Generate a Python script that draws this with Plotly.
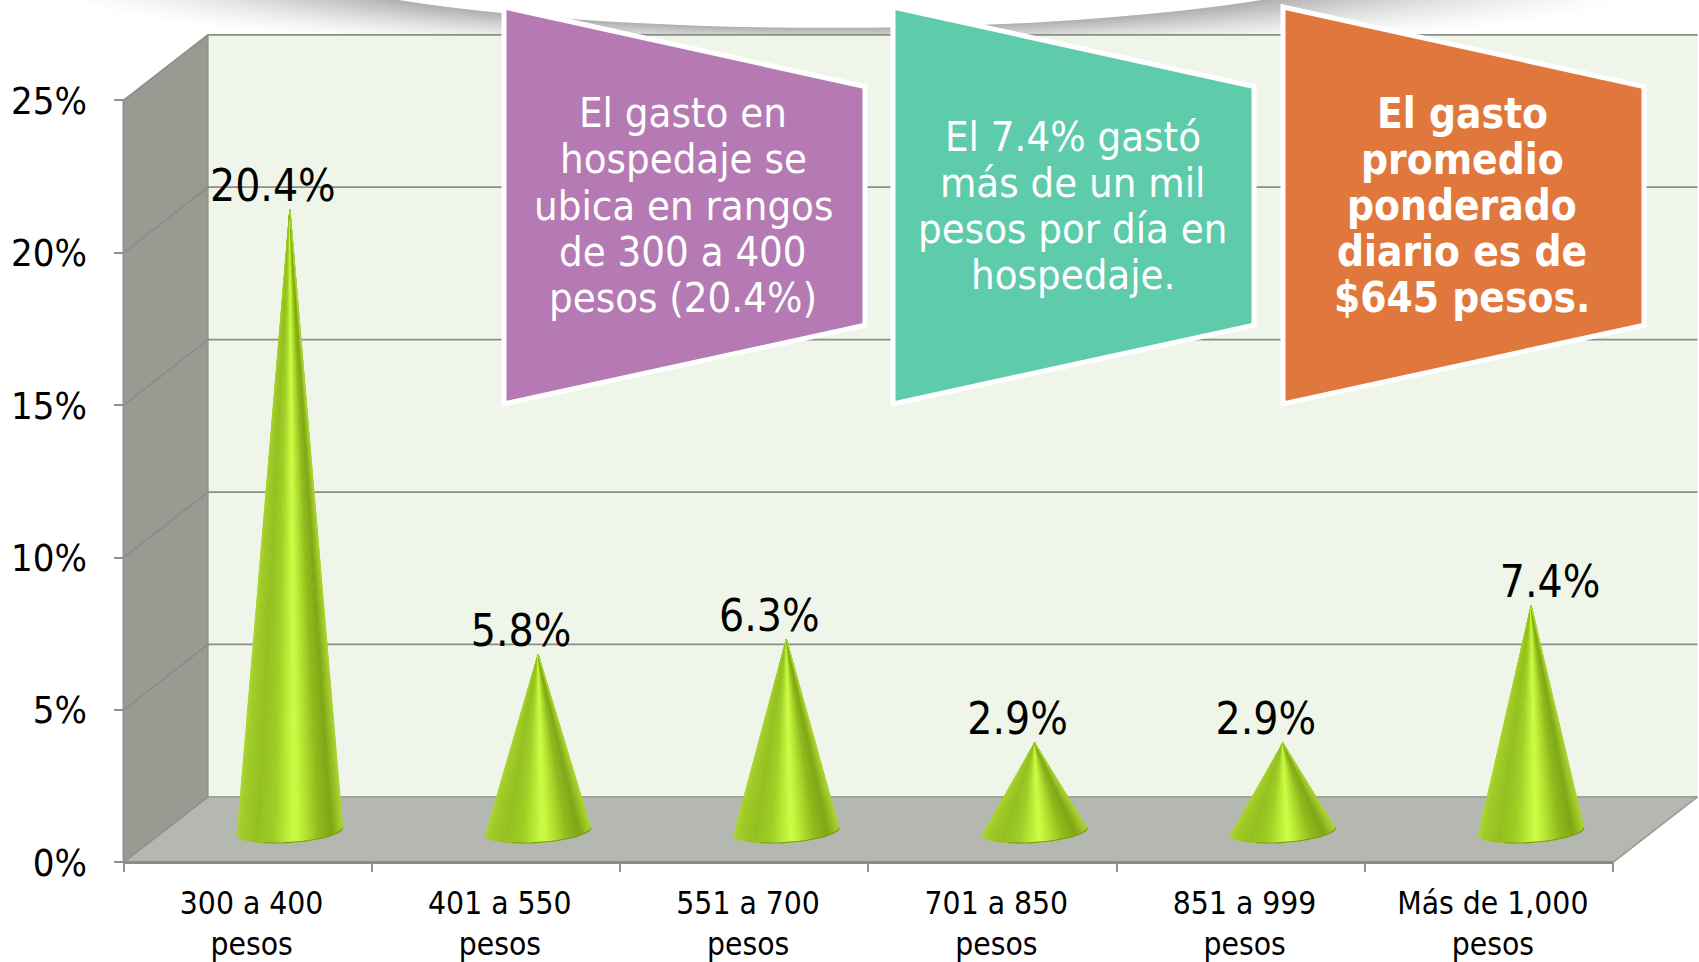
import math
import plotly.graph_objects as go

categories = ["300 a 400<br>pesos", "401 a 550<br>pesos", "551 a 700<br>pesos",
              "701 a 850<br>pesos", "851 a 999<br>pesos", "Más de 1,000<br>pesos"]
values = [20.4, 5.8, 6.3, 2.9, 2.9, 7.4]
value_labels = ["20.4%", "5.8%", "6.3%", "2.9%", "2.9%", "7.4%"]
y_ticks = [0, 5, 10, 15, 20, 25]
y_tick_labels = ["0%", "5%", "10%", "15%", "20%", "25%"]

callout_purple = ["El gasto en", "hospedaje se", "ubica en rangos", "de 300 a 400", "pesos (20.4%)"]
callout_teal = ["El 7.4% gastó", "más de un mil", "pesos por día en", "hospedaje."]
callout_orange = ["El gasto", "promedio", "ponderado", "diario es de", "$645 pesos."]

W, H = 1699, 962
X0, X1, Y0, Y25 = 123.5, 1613.0, 867.0, 101.0
PX = (X1 - X0) / 6
PY = (Y0 - Y25) / 25
DX = 84.5 / PX
DY = 66.0 / PY
FONT = "DejaVu Sans Condensed"

x_range = [-X0 / PX, (W - X0) / PX]
y_range = [-(H - Y0) / PY, Y0 / PY]


def paper_x(px):
    return px / W


def paper_y(py):
    return 1 - py / H


fig = go.Figure()


def poly(xs, ys, color):
    fig.add_trace(go.Scatter(x=xs, y=ys, mode="lines", fill="toself", fillcolor=color,
                             line=dict(width=0, color=color), hoverinfo="skip", showlegend=False))


def line(xs, ys, color="#8b8e86", width=1.6):
    fig.add_trace(go.Scatter(x=xs, y=ys, mode="lines", line=dict(color=color, width=width),
                             hoverinfo="skip", showlegend=False))


# Walls and floor
poly([DX, 6 + DX, 6 + DX, DX], [DY, DY, 25 + DY, 25 + DY], "#EFF6E9")
poly([0, DX, DX, 0], [0, DY, 25 + DY, 25], "#999B92")
poly([0, 6, 6 + DX, DX], [0, 0, DY, DY], "#B4B8B0")

# Gridlines
for v in y_ticks[1:]:
    line([0, DX, 6 + DX], [v, v + DY, v + DY], "#8b8e86", 1.8)
line([DX, DX], [DY, 25 + DY], "#8b8e86", 1.2)
line([0, DX, 6 + DX], [0, DY, DY], "#8b8e86", 1.4)
line([6, 6 + DX], [0, DY], "#9a9c96", 1.6)
line([0, 0], [0, 25], "#8f918b", 2)
line([0, 6], [0, 0], "#8a8c86", 3)

# Cones: fan of strips from the apex to the front arc of the base
R = 50.5
D = 15.6
CONE_DROP = 1.5 / PY
tilt = math.atan2(D, R)
N = 60
stops = [(0.0, (172, 214, 50)), (0.05, (160, 204, 40)), (0.2, (148, 192, 32)), (0.36, (160, 208, 38)),
         (0.47, (186, 236, 54)), (0.55, (204, 255, 72)), (0.63, (186, 234, 52)), (0.78, (144, 186, 28)),
         (0.9, (128, 166, 22)), (0.97, (156, 198, 38)), (1.0, (170, 212, 48))]


def shade(u):
    for (a, ca), (b, cb) in zip(stops, stops[1:]):
        if u <= b:
            f = (u - a) / (b - a)
            return "rgb(%d,%d,%d)" % tuple(round(p + (q - p) * f) for p, q in zip(ca, cb))
    return "rgb(170,212,48)"


def base_point(cx, cy, t):
    return (cx + (R * math.cos(t) + D * math.sin(t)) / PX,
            cy + (D * 65.0 / 84.5 * math.sin(t)) / PY)


ts = [math.pi + tilt + i * math.pi / N for i in range(N + 1)]
for j in range(N):
    xs, ys = [], []
    tm = (ts[j] + ts[j + 1]) / 2
    u = (math.cos(tm - tilt) + 1) / 2
    for i, v in enumerate(values):
        cx = i + 0.5 + DX / 2
        cy = DY / 2 - CONE_DROP
        p1 = base_point(cx, cy, ts[j])
        p2 = base_point(cx, cy, ts[j + 1] + 0.01)
        xs += [cx, p1[0], p2[0], cx, None]
        ys += [cy + v, p1[1], p2[1], cy + v, None]
    c = shade(u)
    fig.add_trace(go.Scatter(x=xs, y=ys, mode="lines", fill="toself", fillcolor=c,
                             line=dict(width=0.6, color=c), hoverinfo="skip", showlegend=False))

# Dark rim along the bottom of each base
for i in range(len(values)):
    cx, cy = i + 0.5 + DX / 2, DY / 2 - CONE_DROP
    arc = [base_point(cx, cy, ts[k]) for k in range(N // 3, N + 1)]
    line([p[0] for p in arc], [p[1] for p in arc], "#7a9a14", 1.1)

# Value labels: the last one sits to the right of its cone in the reference
fig.add_trace(go.Scatter(
    x=[i + 0.5 + DX / 2 + (19 if i == len(values) - 1 else -17) / PX for i in range(len(values))],
    y=[DY / 2 + v + 18 / PY for v in values],
    mode="text", text=value_labels, textposition="middle center",
    textfont=dict(family=FONT, size=44, color="#000000"),
    hoverinfo="skip", showlegend=False, cliponaxis=False))

# Soft shadow at the top of the page, then the white ellipse that cuts it
n_rings = 26
for k in range(n_rings + 1):
    f = k / n_rings
    a = 800 + (590 - 800) * f
    b = 60 + (88 - 60) * f
    cx = 850 + (830 - 850) * f
    cy = -5 + (-60 + 5) * f
    g = round(255 + (172 - 255) * f ** 1.6)
    fig.add_shape(type="circle", xref="paper", yref="paper", layer="below",
                  x0=paper_x(cx - a), x1=paper_x(cx + a), y0=paper_y(cy + b), y1=paper_y(cy - b),
                  fillcolor="rgb(%d,%d,%d)" % (g, g, g), line=dict(width=0))
fig.add_shape(type="circle", xref="paper", yref="paper", layer="below",
              x0=paper_x(830 - 590), x1=paper_x(830 + 590), y0=paper_y(28), y1=paper_y(-148),
              fillcolor="#ffffff", line=dict(width=0))


# Callouts
def callout(left, color, lines, centre, first_y, bold=False):
    right = left + 361
    pts = [(left, 7), (right, 87), (right, 327), (left, 406)]
    path = "M " + " L ".join("%.5f %.5f" % (paper_x(px), paper_y(py)) for px, py in pts) + " Z"
    fig.add_shape(type="path", path=path, xref="paper", yref="paper", layer="above",
                  fillcolor=color, line=dict(color="#ffffff", width=5))
    for n, txt in enumerate(lines):
        fig.add_annotation(text="<b>%s</b>" % txt if bold else txt, xref="paper", yref="paper",
                           x=paper_x(centre), y=paper_y(first_y + n * 46.3), showarrow=False,
                           xanchor="center", yanchor="middle",
                           font=dict(family=FONT, size=42 if bold else 41.5, color="#ffffff"))


callout(504, "#B57AB3", callout_purple, 683, 113.5)
callout(893, "#5ECBAB", callout_teal, 1072.5, 137)
callout(1283, "#E0783E", callout_orange, 1462, 114, bold=True)

fig.update_layout(
    width=W, height=H, margin=dict(l=0, r=0, t=0, b=0), autosize=False,
    paper_bgcolor="#ffffff", plot_bgcolor="rgba(0,0,0,0)", showlegend=False,
    xaxis=dict(domain=[0, 1], range=x_range, anchor="free", position=(H - Y0) / H,
               tickmode="array", tickvals=[i + 0.516 for i in range(6)], ticktext=categories,
               ticks="", ticklen=0, showgrid=False, zeroline=False, showline=False,
               ticklabelstandoff=19, tickangle=0,
               tickfont=dict(family=FONT, size=31.5, color="#000000"),
               minor=dict(tickmode="array", tickvals=list(range(7)), ticks="outside", ticklen=9,
                          tickcolor="#8f918b", tickwidth=2, showgrid=False)),
    yaxis=dict(domain=[0, 1], range=y_range, anchor="free", position=X0 / W,
               tickmode="array", tickvals=y_ticks, ticktext=y_tick_labels,
               ticks="outside", ticklen=10, tickcolor="#8f918b", tickwidth=2,
               showgrid=False, zeroline=False, showline=False, ticklabelstandoff=19,
               tickfont=dict(family=FONT, size=38, color="#000000")),
)

fig.write_html("out.html", config={"displayModeBar": False},
               post_script="document.body.style.margin='0';document.body.style.overflow='hidden';")
